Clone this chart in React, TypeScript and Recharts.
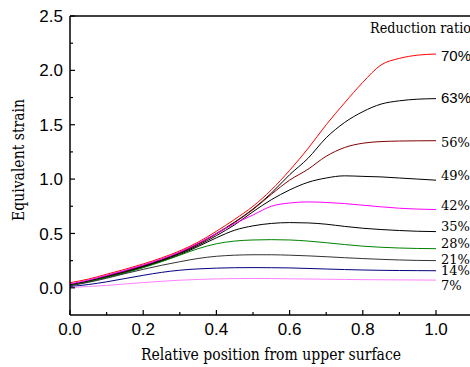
import React from "react";
import { LineChart, Line, XAxis, YAxis, ReferenceLine, ReferenceDot } from "recharts";

// relative position from upper surface
const positions = [0, 0.05, 0.1, 0.15, 0.2, 0.25, 0.3, 0.35, 0.4, 0.45, 0.5, 0.55, 0.6, 0.65, 0.7, 0.75, 0.8, 0.85, 0.9, 0.95, 1.0];

const r70 = [0.047, 0.08, 0.125, 0.17, 0.22, 0.275, 0.34, 0.42, 0.52, 0.63, 0.75, 0.9, 1.08, 1.28, 1.5, 1.7, 1.89, 2.05, 2.11, 2.14, 2.15];
const r63 = [0.03, 0.065, 0.11, 0.155, 0.205, 0.26, 0.325, 0.405, 0.5, 0.605, 0.725, 0.87, 1.04, 1.19, 1.38, 1.52, 1.62, 1.69, 1.72, 1.735, 1.74];
const r56 = [0.03, 0.062, 0.105, 0.15, 0.2, 0.255, 0.32, 0.4, 0.495, 0.6, 0.72, 0.86, 0.99, 1.09, 1.21, 1.29, 1.33, 1.345, 1.35, 1.352, 1.353];
const r49 = [0.025, 0.06, 0.1, 0.145, 0.195, 0.25, 0.315, 0.39, 0.48, 0.58, 0.7, 0.81, 0.9, 0.97, 1.01, 1.03, 1.025, 1.02, 1.01, 1.0, 0.99];
const r42 = [0.035, 0.07, 0.115, 0.16, 0.21, 0.265, 0.33, 0.41, 0.5, 0.59, 0.67, 0.75, 0.78, 0.79, 0.785, 0.775, 0.76, 0.745, 0.732, 0.724, 0.72];
const r35 = [0.025, 0.058, 0.098, 0.14, 0.19, 0.245, 0.305, 0.38, 0.46, 0.53, 0.57, 0.592, 0.6, 0.597, 0.585, 0.565, 0.548, 0.536, 0.527, 0.52, 0.517];
const r28 = [0.02, 0.055, 0.095, 0.137, 0.185, 0.24, 0.3, 0.36, 0.405, 0.43, 0.44, 0.443, 0.44, 0.43, 0.415, 0.398, 0.383, 0.373, 0.366, 0.362, 0.36];
const r21 = [0.02, 0.05, 0.088, 0.13, 0.17, 0.207, 0.24, 0.27, 0.29, 0.3, 0.304, 0.304, 0.3, 0.294, 0.286, 0.277, 0.269, 0.262, 0.256, 0.252, 0.25];
const r14 = [0.012, 0.03, 0.055, 0.085, 0.115, 0.142, 0.162, 0.174, 0.181, 0.185, 0.186, 0.185, 0.183, 0.178, 0.173, 0.168, 0.164, 0.161, 0.159, 0.158, 0.157];
const r7 = [0.003, 0.012, 0.022, 0.035, 0.048, 0.06, 0.07, 0.077, 0.082, 0.085, 0.086, 0.085, 0.083, 0.081, 0.079, 0.077, 0.075, 0.074, 0.073, 0.072, 0.071];

const ratios = ["70%", "63%", "56%", "49%", "42%", "35%", "28%", "21%", "14%", "7%"];
const seriesValues = [r70, r63, r56, r49, r42, r35, r28, r21, r14, r7];
const colors = ["#ff0000", "#000000", "#800000", "#000000", "#ff00ff", "#000000", "#008000", "#333333", "#000080", "#ff80ff"];
// where each ratio label sits at the right end (y value)
const labelAt = [2.13, 1.745, 1.34, 1.033, 0.759, 0.561, 0.412, 0.258, 0.157, 0.018];
const sansLabels = ["70%", "63%"];

const xTicks = [0, 0.1, 0.2, 0.3, 0.4, 0.5, 0.6, 0.7, 0.8, 0.9, 1.0];
const yTicks = [0, 0.25, 0.5, 0.75, 1.0, 1.25, 1.5, 1.75, 2.0, 2.25, 2.5];

const data = positions.map((x, i) => {
  const row: Record<string, number> = { x };
  ratios.forEach((r, k) => (row[r] = seriesValues[k][i]));
  return row;
});

const sans = "Liberation Sans";
// only DejaVu Serif resolves as a serif face here
const serif = "DejaVu Serif";

const isMajor = (v: number, step: number) => Math.abs(v / step - Math.round(v / step)) < 1e-6;

const YTick = (props: any) => {
  const { x, y, payload } = props;
  const major = isMajor(payload.value, 0.5);
  return (
    <g>
      <line x1={x} x2={x + (major ? 5 : 3)} y1={y} y2={y} stroke="#000" strokeWidth={1.2} />
      {major && (
        <text x={x - 7} y={y} dy="0.36em" textAnchor="end" fontFamily={sans} fontSize={17} fill="#000">
          {payload.value.toFixed(1)}
        </text>
      )}
    </g>
  );
};

const XTick = (props: any) => {
  const { x, y, payload } = props;
  const major = isMajor(payload.value, 0.2);
  return (
    <g>
      <line x1={x} x2={x} y1={y} y2={y - (major ? 5 : 3)} stroke="#000" strokeWidth={1.2} />
      {major && (
        <text x={x} y={y + 20} textAnchor="middle" fontFamily={sans} fontSize={17} fill="#000">
          {payload.value.toFixed(1)}
        </text>
      )}
    </g>
  );
};

const RatioLabel = (props: any) => {
  const { viewBox, value, offset } = props;
  const isSans = sansLabels.includes(value);
  return (
    <text
      x={viewBox.x + offset}
      y={viewBox.y}
      dy="0.35em"
      fontFamily={isSans ? sans : serif}
      fontSize={isSans ? 15 : 13}
      fill="#000"
    >
      {value}
    </text>
  );
};

export default function App() {
  return (
    <div style={{ position: "absolute", left: 0, top: 0, width: 470, height: 367, overflow: "hidden", background: "#fff" }}>
      <LineChart width={480} height={367} data={data} margin={{ top: 16, right: 7.4, bottom: 0, left: 0 }}>
        <XAxis
          dataKey="x"
          type="number"
          domain={[0, 1.1]}
          ticks={xTicks}
          tick={<XTick />}
          tickLine={false}
          tickSize={0}
          tickMargin={0}
          height={52}
          axisLine={{ stroke: "#000", strokeWidth: 1.5 }}
          allowDataOverflow
        />
        <YAxis
          type="number"
          domain={[-0.25, 2.5]}
          ticks={yTicks}
          tick={<YTick />}
          tickLine={false}
          tickSize={0}
          tickMargin={0}
          width={70}
          axisLine={{ stroke: "#000", strokeWidth: 1.5 }}
          allowDataOverflow
        />
        <ReferenceLine y={2.5} stroke="#000" strokeWidth={1.5} />
        {ratios.map((r, k) => (
          <Line
            key={r}
            dataKey={r}
            type="monotone"
            stroke={colors[k]}
            strokeWidth={1}
            dot={false}
            isAnimationActive={false}
          />
        ))}
        {ratios.map((r, k) => (
          <ReferenceDot
            key={"lbl" + r}
            x={1.0}
            y={labelAt[k]}
            r={0}
            stroke="none"
            fill="none"
            label={<RatioLabel value={r} offset={sansLabels.includes(r) ? 2 : 3} />}
          />
        ))}
      </LineChart>
      <svg width={470} height={367} style={{ position: "absolute", left: 0, top: 0, pointerEvents: "none" }}>
        <text x={370} y={33} fontFamily={serif} fontSize={14} textLength={101} lengthAdjust="spacingAndGlyphs" fill="#000">
          Reduction ratio
        </text>
        <text
          transform="translate(18.5,160) rotate(-90)"
          textAnchor="middle"
          dy="0.35em"
          fontFamily={serif}
          fontSize={16}
          textLength={122}
          lengthAdjust="spacingAndGlyphs"
          fill="#000"
        >
          Equivalent strain
        </text>
        <text
          x={271}
          y={360}
          textAnchor="middle"
          fontFamily={serif}
          fontSize={16}
          textLength={260}
          lengthAdjust="spacingAndGlyphs"
          fill="#000"
        >
          Relative position from upper surface
        </text>
      </svg>
    </div>
  );
}
